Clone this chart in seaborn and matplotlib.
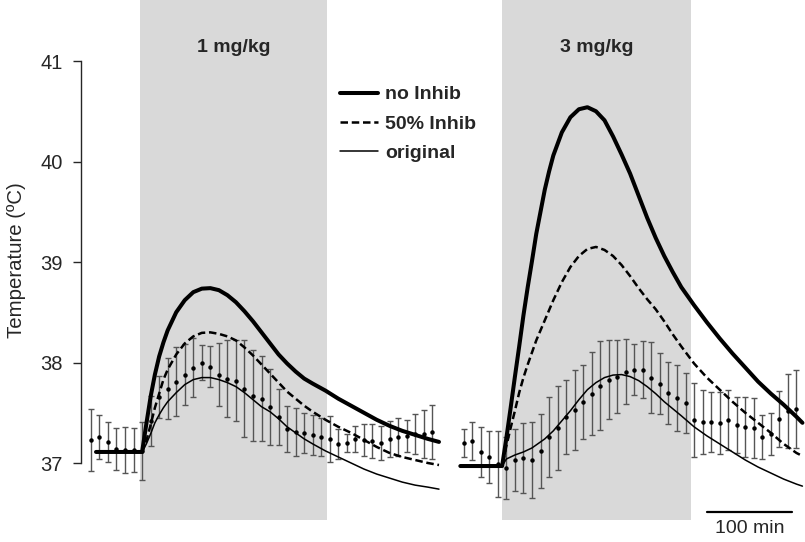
import numpy as np
import pandas as pd
import matplotlib
matplotlib.use('Agg')
import matplotlib.pyplot as plt
import matplotlib.transforms as mtransforms
from matplotlib.lines import Line2D
import seaborn as sns

# Model curves, 1 mg/kg panel (time in min from start of infusion)
t_low = [-54, 0, 5, 10, 15, 20, 25, 30, 40, 50, 60, 70, 80, 90, 100, 110, 120, 130, 140, 150,
         160, 170, 180, 190, 200, 215, 230, 245, 260, 275, 290, 305, 320, 335, 348]
low_noinhib = [37.11, 37.11, 37.39, 37.66, 37.88, 38.06, 38.20, 38.32, 38.50, 38.62, 38.70, 38.735,
               38.74, 38.72, 38.67, 38.60, 38.51, 38.41, 38.30, 38.19, 38.08, 37.99, 37.91, 37.84,
               37.79, 37.72, 37.64, 37.57, 37.50, 37.43, 37.37, 37.32, 37.28, 37.24, 37.21]
low_half = [37.11, 37.11, 37.22, 37.38, 37.55, 37.69, 37.83, 37.93, 38.08, 38.19, 38.26, 38.295,
            38.30, 38.285, 38.26, 38.22, 38.15, 38.07, 37.98, 37.89, 37.80, 37.71, 37.64, 37.57,
            37.51, 37.43, 37.36, 37.30, 37.23, 37.16, 37.10, 37.06, 37.03, 37.00, 36.98]
low_orig = [37.11, 37.11, 37.19, 37.29, 37.40, 37.48, 37.55, 37.61, 37.70, 37.78, 37.83, 37.85,
            37.85, 37.83, 37.80, 37.76, 37.70, 37.63, 37.56, 37.51, 37.44, 37.36, 37.30, 37.24,
            37.19, 37.12, 37.06, 37.00, 36.94, 36.89, 36.85, 36.81, 36.78, 36.76, 36.74]

# Model curves, 3 mg/kg panel
t_high = [-49, 0, 5, 10, 15, 20, 25, 30, 35, 40, 45, 50, 55, 60, 70, 80, 90, 100, 110, 120, 130,
          140, 150, 160, 170, 180, 190, 200, 210, 225, 240, 255, 270, 285, 300, 315, 330, 345, 352]
high_noinhib = [36.97, 36.97, 37.25, 37.55, 37.86, 38.16, 38.47, 38.75, 39.01, 39.28, 39.50, 39.72,
                39.90, 40.06, 40.29, 40.44, 40.52, 40.54, 40.50, 40.41, 40.25, 40.07, 39.88, 39.66,
                39.44, 39.24, 39.06, 38.90, 38.75, 38.57, 38.40, 38.24, 38.09, 37.95, 37.81, 37.69,
                37.58, 37.46, 37.40]
high_half = [36.97, 36.97, 37.17, 37.35, 37.52, 37.70, 37.85, 37.98, 38.10, 38.22, 38.32, 38.42,
             38.52, 38.62, 38.80, 38.95, 39.06, 39.13, 39.15, 39.12, 39.06, 38.97, 38.86, 38.74,
             38.63, 38.53, 38.41, 38.28, 38.16, 37.99, 37.85, 37.73, 37.61, 37.50, 37.40, 37.30,
             37.19, 37.10, 37.07]
high_orig = [36.97, 36.97, 37.04, 37.06, 37.08, 37.095, 37.11, 37.13, 37.15, 37.18, 37.21, 37.24,
             37.28, 37.32, 37.42, 37.52, 37.63, 37.73, 37.80, 37.85, 37.875, 37.88, 37.86, 37.82,
             37.76, 37.69, 37.61, 37.54, 37.47, 37.36, 37.27, 37.19, 37.11, 37.03, 36.96, 36.90,
             36.84, 36.79, 36.77]

# Measured temperature, mean and error
t_obs_low = list(range(-60, 341, 10))
obs_low = [37.23, 37.26, 37.21, 37.14, 37.13, 37.13, 37.12, 37.42, 37.66, 37.74, 37.81, 37.88,
           37.95, 38.00, 37.96, 37.88, 37.84, 37.82, 37.74, 37.67, 37.64, 37.56, 37.46, 37.34,
           37.31, 37.30, 37.28, 37.26, 37.24, 37.19, 37.20, 37.24, 37.23, 37.22, 37.20, 37.24,
           37.26, 37.27, 37.29, 37.29, 37.31]
err_low = [0.31, 0.22, 0.20, 0.21, 0.23, 0.22, 0.29, 0.25, 0.21, 0.30, 0.34, 0.30, 0.29, 0.17,
           0.20, 0.31, 0.38, 0.40, 0.48, 0.45, 0.42, 0.38, 0.28, 0.23, 0.24, 0.20, 0.20, 0.19,
           0.23, 0.15, 0.09, 0.13, 0.16, 0.17, 0.17, 0.18, 0.19, 0.16, 0.20, 0.24, 0.27]

t_obs_high = list(range(-45, 346, 10))
obs_high = [37.20, 37.22, 37.11, 37.06, 36.99, 36.95, 37.03, 37.05, 37.03, 37.12, 37.26, 37.35,
            37.46, 37.53, 37.61, 37.69, 37.77, 37.83, 37.86, 37.91, 37.93, 37.93, 37.85, 37.79,
            37.70, 37.65, 37.60, 37.43, 37.41, 37.41, 37.40, 37.43, 37.38, 37.36, 37.35, 37.26,
            37.29, 37.44, 37.52, 37.54]
err_high = [0.14, 0.19, 0.25, 0.26, 0.33, 0.31, 0.31, 0.35, 0.38, 0.37, 0.40, 0.42, 0.37, 0.40,
            0.37, 0.41, 0.44, 0.39, 0.36, 0.32, 0.25, 0.28, 0.35, 0.30, 0.31, 0.33, 0.30, 0.37,
            0.32, 0.30, 0.31, 0.30, 0.28, 0.30, 0.30, 0.22, 0.21, 0.28, 0.37, 0.39]

doses = ['1 mg/kg', '3 mg/kg']
infusion = [(-3, 217), (0, 221)]
series_names = ['no Inhib', '50% Inhib', 'original']

# where each panel's time zero sits on the shared x axis (min)
offsets = [72, 494]

sns.set_style('ticks')
plt.rcParams['font.family'] = ['Liberation Sans', 'DejaVu Sans']

fig = plt.figure(figsize=(8.05, 5.42), dpi=100)
ax = fig.add_axes([0.1002, 0.0406, 0.8998, 0.9594])

styles = {
    'no Inhib': dict(lw=2.9, linestyle='-'),
    '50% Inhib': dict(lw=1.8, linestyle=(0, (3, 1.5))),
    'original': dict(lw=1.1, linestyle='-'),
}

panels = [
    (t_low, [low_noinhib, low_half, low_orig], t_obs_low, obs_low, err_low),
    (t_high, [high_noinhib, high_half, high_orig], t_obs_high, obs_high, err_high),
]

trans = mtransforms.blended_transform_factory(ax.transData, ax.transAxes)

for i, (t, curves, t_obs, obs, err) in enumerate(panels):
    off = offsets[i]
    # gray shading for the infusion period
    ax.axvspan(infusion[i][0] + off, infusion[i][1] + off, color='#d9d9d9', lw=0, zorder=0)
    ax.text(np.mean(infusion[i]) + off, 0.909, doses[i], transform=trans, ha='center',
            va='center', fontsize=14, fontweight='bold')

    ax.errorbar(np.array(t_obs) + off, obs, yerr=err, fmt='o', ms=2.2, color='black',
                ecolor='#555555', elinewidth=1, capsize=2.3, capthick=1, zorder=2)

    df = pd.DataFrame({'time': np.array(t) + off})
    for name, vals in zip(series_names, curves):
        df[name] = vals
        sns.lineplot(data=df, x='time', y=name, ax=ax, color='black', zorder=3,
                     **styles[name])

# scale bar
bar_start = 240 + offsets[1]
ax.plot([bar_start, bar_start + 100], [36.51, 36.51], color='black', lw=1.6, clip_on=False)
ax.text(bar_start + 50, 36.35, '100 min', ha='center', va='center', fontsize=14, clip_on=False)

ax.set_xlim(0, 849)
ax.set_ylim(36.433, 41.607)
ax.set_xlabel('')
ax.set_ylabel('Temperature (ºC)', fontsize=14.7)
ax.yaxis.set_label_coords(-0.0755, 0.5)
ax.set_yticks([37, 38, 39, 40, 41])
ax.tick_params(axis='y', labelsize=14.5, length=6, width=1, pad=7, direction='out')
ax.set_xticks([])
for s in ['top', 'right', 'bottom']:
    ax.spines[s].set_visible(False)
ax.spines['left'].set_bounds(37, 41)
ax.spines['left'].set_linewidth(1)

handles = [Line2D([], [], color='black', **styles[n]) for n in series_names]
leg = ax.legend(handles, series_names, loc='upper left', bbox_to_anchor=(0.358, 0.835),
                frameon=False, borderaxespad=0, borderpad=0, handlelength=1.96,
                handletextpad=0.36, labelspacing=0.6, prop={'size': 14, 'weight': 'bold'})

fig.savefig('out.png', dpi=100)
